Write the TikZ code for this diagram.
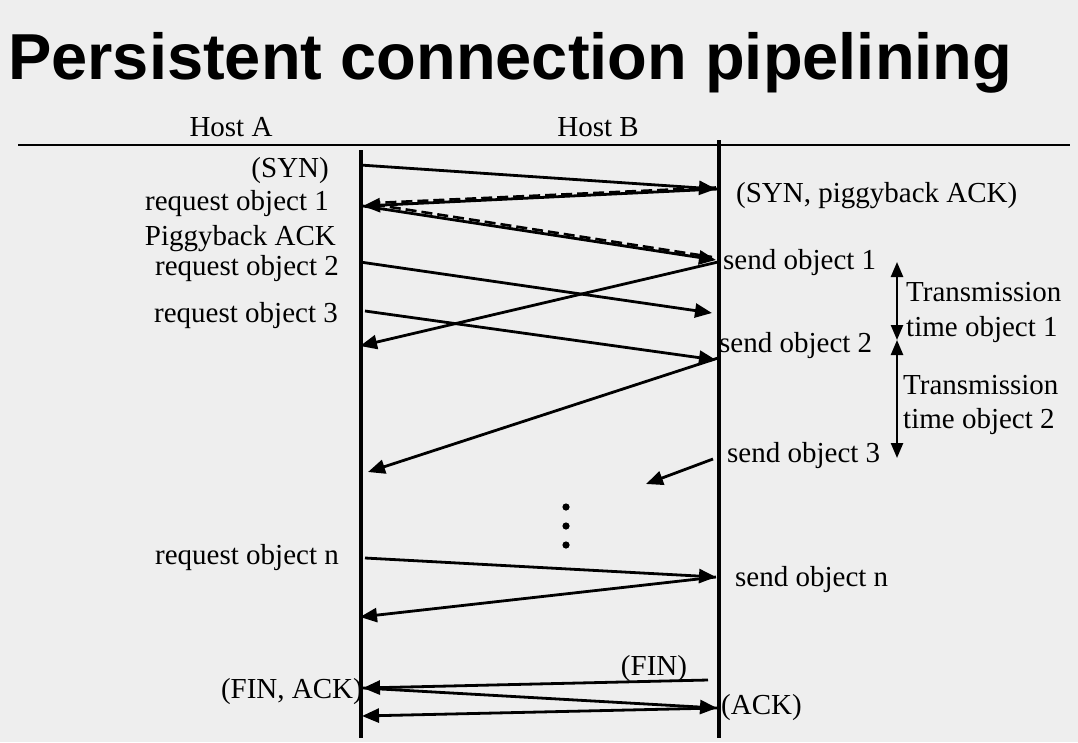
\documentclass[tikz,border=0pt]{standalone}
\usepackage{fontspec}
\setmainfont{Liberation Serif}
\newfontfamily\titlefont{Liberation Sans}
\usetikzlibrary{arrows.meta}
\definecolor{bg}{HTML}{EEEEEE}
\tikzset{
  lbl/.style={inner sep=0pt, font=\fontsize{29}{31}\selectfont},
  life/.style={line width=3.6pt},
  msg/.style={line width=2.8pt, -{Triangle[length=17pt,width=14pt]}},
  dmsg/.style={line width=2.6pt, dash pattern=on 11pt off 5pt},
  span/.style={line width=2.4pt, {Triangle[length=15pt,width=12pt]}-{Triangle[length=15pt,width=12pt]}},
}
\begin{document}
\begin{tikzpicture}[x=1pt,y=-1pt]
\fill[bg] (0,0) rectangle (1078,742);
\useasboundingbox (0,0) rectangle (1078,742);
% title
\node[anchor=base west, inner sep=0pt, font=\titlefont\bfseries\fontsize{65}{70}\selectfont] (title) at (8,79) {Persistent connection pipelining};
% header
\node[lbl] (hosta) at (231,127) {Host A};
\node[lbl] (hostb) at (598,127) {Host B};
\coordinate (hl) at (18,145);
\coordinate (hr) at (1070,145);
\draw[line width=2.4pt] (hl) -- (hr);
% lifelines
\coordinate (atop) at (361,150);
\coordinate (abot) at (361,738);
\coordinate (btop) at (719,140);
\coordinate (bbot) at (719,738);
\draw[life] (atop) -- (abot);
\draw[life] (btop) -- (bbot);
% message endpoints
\coordinate (syna) at (360,165);  \coordinate (synb) at (716,189);
\coordinate (sab) at (718,189);   \coordinate (saa) at (363,206);
\coordinate (dsab) at (716,187.5);  \coordinate (dsaa) at (374,203);
\coordinate (r1a) at (363,206);   \coordinate (r1b) at (716,260);
\coordinate (dr1a) at (374,204.5);  \coordinate (dr1b) at (712,257);
\coordinate (r2a) at (360,262);   \coordinate (r2b) at (712,313);
\coordinate (s1b) at (718,262);   \coordinate (s1a) at (360,346);
\coordinate (r3a) at (365,311);   \coordinate (r3b) at (716,360);
\coordinate (s2b) at (718,358);   \coordinate (s2a) at (368,472);
\coordinate (s3b) at (713,459);   \coordinate (s3e) at (646,484);
\coordinate (rna) at (365,558);   \coordinate (rnb) at (716,577);
\coordinate (snb) at (716,577);   \coordinate (sna) at (360,617);
\coordinate (finb) at (708,680);  \coordinate (fina) at (363,688);
\coordinate (faa) at (363,688);   \coordinate (fab) at (717,708);
\coordinate (ackb) at (717,708);  \coordinate (acka) at (362,716);
% messages
\draw[msg] (syna) -- (synb);
\draw[msg] (sab) -- (saa);
\draw[dmsg] (dsab) -- (dsaa);
\draw[msg] (r1a) -- (r1b);
\draw[dmsg] (dr1a) -- (dr1b);
\draw[msg] (r2a) -- (r2b);
\draw[msg] (s1b) -- (s1a);
\draw[msg] (r3a) -- (r3b);
\draw[msg] (s2b) -- (s2a);
\draw[msg] (s3b) -- (s3e);
\draw[msg] (rna) -- (rnb);
\draw[msg] (snb) -- (sna);
\draw[msg] (finb) -- (fina);
\draw[msg] (faa) -- (fab);
\draw[msg] (ackb) -- (acka);
% dots
\fill (566,507) circle (3.6pt);
\fill (566,526) circle (3.6pt);
\fill (566,545) circle (3.6pt);
% left labels
\node[lbl, anchor=mid east] (lsyn) at (329,175) {(SYN)};
\node[lbl, anchor=mid east] (lr1) at (329,208) {request object 1};
\node[lbl, anchor=mid east] (lpb) at (336,243) {Piggyback ACK};
\node[lbl, anchor=mid east] (lr2) at (339,273) {request object 2};
\node[lbl, anchor=mid east] (lr3) at (338,320) {request object 3};
\node[lbl, anchor=mid east] (lrn) at (339,562) {request object n};
\node[lbl, anchor=mid east] (lfa) at (363,696) {(FIN, ACK)};
% right labels
\node[lbl, anchor=mid west] (lsa) at (736,200) {(SYN, piggyback ACK)};
\node[lbl, anchor=mid west] (ls1) at (723,267) {send object 1};
\node[lbl, anchor=mid west] (ls2) at (719,350) {send object 2};
\node[lbl, anchor=mid west] (ls3) at (727,460) {send object 3};
\node[lbl, anchor=mid west] (lsn) at (735,584) {send object n};
\node[lbl, anchor=mid west] (lack) at (721,712) {(ACK)};
\node[lbl] (lfin) at (654,669) {(FIN)};
% transmission times
\coordinate (t1) at (897,262);
\coordinate (t2) at (897,340);
\coordinate (t3) at (897,458);
\draw[span] (t1) -- (t2);
\draw[span] (t2) -- (t3);
\node[lbl, anchor=mid west] (tt1a) at (906,299) {Transmission};
\node[lbl, anchor=mid west] (tt1b) at (906,334) {time object 1};
\node[lbl, anchor=mid west] (tt2a) at (903,392) {Transmission};
\node[lbl, anchor=mid west] (tt2b) at (903,426) {time object 2};
\end{tikzpicture}
\end{document}
